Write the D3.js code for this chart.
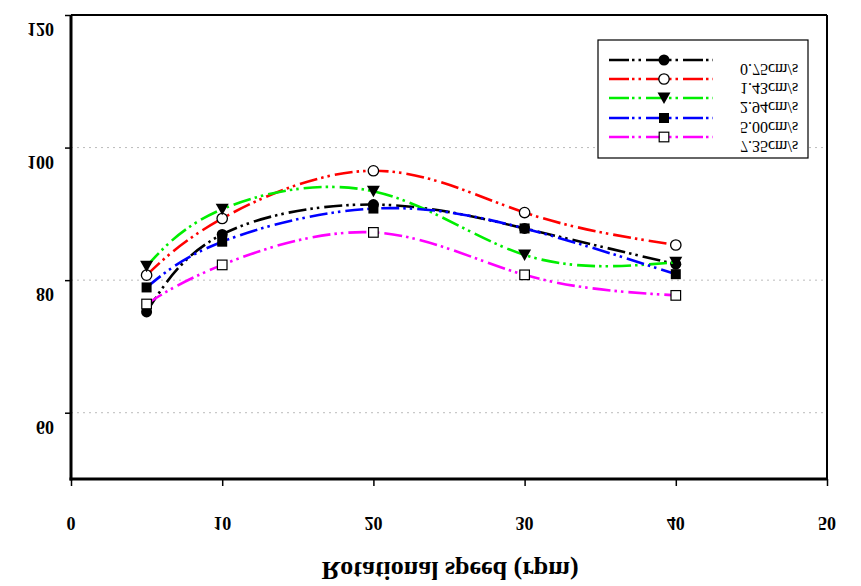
<!DOCTYPE html>
<html>
<head>
<meta charset="utf-8">
<script src="https://cdn.jsdelivr.net/npm/d3@7"></script>
<style>
  html, body { margin: 0; padding: 0; background: #fff; }
  svg { display: block; }
</style>
</head>
<body>
<svg id="chart" width="861" height="586"></svg>
<script>
// ---- data ----
const speeds = [5, 10, 20, 30, 40];
const seriesNames = ["0.75cm/s", "1.43cm/s", "2.94cm/s", "5.00cm/s", "7.35cm/s"];
const s075 = [75.2, 86.9, 91.4, 87.8, 82.4];
const s143 = [80.75, 89.3, 96.5, 90.2, 85.3];
const s294 = [82.1, 90.7, 93.4, 83.8, 82.7];
const s500 = [78.9, 85.8, 90.8, 87.8, 80.9];
const s735 = [76.4, 82.3, 87.2, 80.8, 77.7];
const xTicks = [0, 10, 20, 30, 40, 50];
const yTicks = [60, 80, 100, 120];
const xTitle = "Rotational speed (rpm)";

const colors = ["#000000", "#ff0000", "#00ee00", "#0000ff", "#ff00ff"];
const markers = ["circleFilled", "circleOpen", "triangleDown", "squareFilled", "squareOpen"];
const allSeries = [s075, s143, s294, s500, s735];

const svg = d3.select("#chart");
const L = 71, R = 827, T = 15, B = 479;
const x = d3.scaleLinear().domain([0, 50]).range([L, R]);
const y = d3.scaleLinear().domain([50, 120]).range([B, T]);

const serif = "'Liberation Serif', 'Times New Roman', serif";

// flipped (upside-down) text helper
function flipText(parent, tx, ty, str, anchor, size, weight, baseline) {
  const g = parent.append("g").attr("transform", `translate(${tx},${ty}) scale(1,-1)`);
  g.append("text")
    .attr("x", 0).attr("y", 0)
    .attr("text-anchor", anchor)
    .attr("dominant-baseline", baseline || "central")
    .style("font-family", serif)
    .style("font-size", size + "px")
    .style("font-weight", weight)
    .attr("fill", "#000")
    .text(str);
  return g;
}

// gridlines
svg.append("g").selectAll("line").data(yTicks.filter(v => v < 120)).join("line")
  .attr("x1", L).attr("x2", R)
  .attr("y1", d => y(d)).attr("y2", d => y(d))
  .attr("stroke", "#bbbbbb").attr("stroke-width", 1)
  .attr("stroke-dasharray", "2,4");

// axes ticks
const yAxis = d3.axisLeft(y).tickValues(yTicks).tickSize(6).tickFormat("");
const gy = svg.append("g").attr("transform", `translate(${L},0)`).call(yAxis);
gy.select(".domain").remove();
gy.selectAll(".tick line").attr("stroke", "#000").attr("stroke-width", 1.5);

const xAxis = d3.axisBottom(x).tickValues(xTicks).tickSize(7).tickFormat("");
const gx = svg.append("g").attr("transform", `translate(0,${B})`).call(xAxis);
gx.select(".domain").remove();
gx.selectAll(".tick line").attr("stroke", "#000").attr("stroke-width", 1.5);

// frame
svg.append("line").attr("x1", L).attr("x2", L).attr("y1", T).attr("y2", B + 1.5)
  .attr("stroke", "#000").attr("stroke-width", 3);
svg.append("line").attr("x1", L - 1.5).attr("x2", R + 1).attr("y1", B).attr("y2", B)
  .attr("stroke", "#000").attr("stroke-width", 3);
svg.append("line").attr("x1", L).attr("x2", R).attr("y1", T).attr("y2", T)
  .attr("stroke", "#000").attr("stroke-width", 2);
svg.append("line").attr("x1", R).attr("x2", R).attr("y1", T).attr("y2", B)
  .attr("stroke", "#000").attr("stroke-width", 2);

// tick labels (flipped)
yTicks.forEach(v => flipText(svg, 54, y(v) + 14, String(v), "end", 18, "bold"));
xTicks.forEach(v => flipText(svg, x(v), 523, String(v), "middle", 18, "bold"));
flipText(svg, 450, 562, xTitle, "middle", 26, "bold", "alphabetic");

// lines + markers
const dash = "18,4,2.5,4,2.5,5";
const line = d3.line().x((d, i) => x(speeds[i])).y(d => y(d)).curve(d3.curveNatural);

function drawMarker(g, type, cx, cy, color) {
  if (type === "circleFilled") {
    g.append("circle").attr("cx", cx).attr("cy", cy).attr("r", 5.5).attr("fill", "#000");
  } else if (type === "circleOpen") {
    g.append("circle").attr("cx", cx).attr("cy", cy).attr("r", 5.2)
      .attr("fill", "#fff").attr("stroke", "#000").attr("stroke-width", 1.3);
  } else if (type === "triangleDown") {
    g.append("path").attr("d", `M${cx - 6.5},${cy - 5.5}L${cx + 6.5},${cy - 5.5}L${cx},${cy + 6}Z`)
      .attr("fill", "#000");
  } else if (type === "squareFilled") {
    g.append("rect").attr("x", cx - 5).attr("y", cy - 5).attr("width", 10).attr("height", 10)
      .attr("fill", "#000");
  } else {
    g.append("rect").attr("x", cx - 4.8).attr("y", cy - 4.8).attr("width", 9.6).attr("height", 9.6)
      .attr("fill", "#fff").attr("stroke", "#000").attr("stroke-width", 1.2);
  }
}

allSeries.forEach((vals, si) => {
  const g = svg.append("g");
  g.append("path").datum(vals).attr("d", line)
    .attr("fill", "none").attr("stroke", colors[si]).attr("stroke-width", 2.6)
    .attr("stroke-dasharray", dash);
  vals.forEach((v, i) => drawMarker(g, markers[si], x(speeds[i]), y(v), colors[si]));
});

// legend
const lg = svg.append("g");
lg.append("rect").attr("x", 598).attr("y", 40).attr("width", 210).attr("height", 118)
  .attr("fill", "#fff").attr("stroke", "#000").attr("stroke-width", 1.2);
const legY = [60, 79, 98, 118, 137];
seriesNames.forEach((name, si) => {
  const yy = legY[si];
  lg.append("line").attr("x1", 609).attr("x2", 713).attr("y1", yy).attr("y2", yy)
    .attr("stroke", colors[si]).attr("stroke-width", 2.6).attr("stroke-dasharray", "20,3,2.5,4,2.5,5");
  drawMarker(lg, markers[si], 664, yy, colors[si]);
  flipText(lg, 740, yy + 9, name, "start", 16, "normal");
});
</script>
</body>
</html>
